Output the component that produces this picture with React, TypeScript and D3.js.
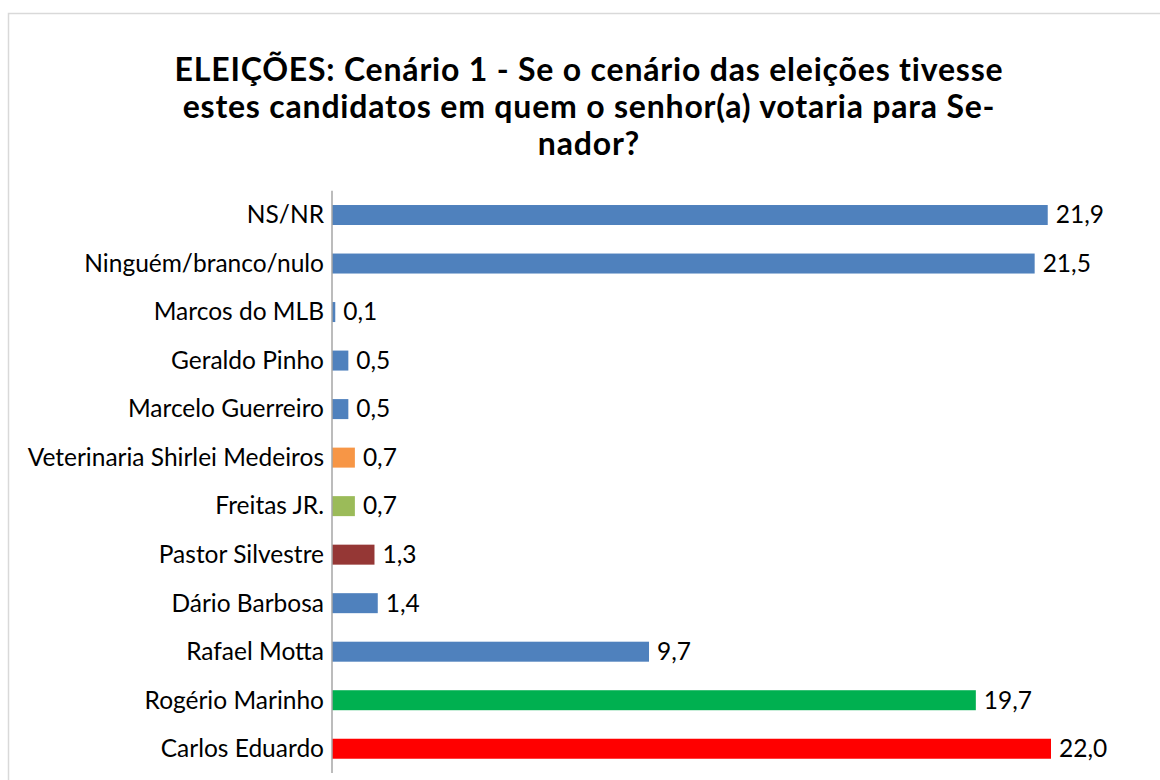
import React from "react";
import * as d3 from "d3";

// Senate voting scenario, values in %
const candidates = [
  "NS/NR",
  "Ninguém/branco/nulo",
  "Marcos do MLB",
  "Geraldo Pinho",
  "Marcelo Guerreiro",
  "Veterinaria Shirlei Medeiros",
  "Freitas JR.",
  "Pastor Silvestre",
  "Dário Barbosa",
  "Rafael Motta",
  "Rogério Marinho",
  "Carlos Eduardo",
];
const values = [21.9, 21.5, 0.1, 0.5, 0.5, 0.7, 0.7, 1.3, 1.4, 9.7, 19.7, 22.0];
const colors = [
  "#4f81bd", "#4f81bd", "#4f81bd", "#4f81bd", "#4f81bd",
  "#f79646", "#9bbb59", "#953735", "#4f81bd", "#4f81bd",
  "#00b050", "#ff0000",
];
const titleLines = [
  "ELEIÇÕES: Cenário 1 - Se o cenário das eleições tivesse",
  "estes candidatos em quem o senhor(a) votaria para Se-",
  "nador?",
];

const width = 1160;
const height = 780;
const margin = { left: 332, top: 190.75, right: 109, bottom: 7 };
const font = "Lato, 'Open Sans', sans-serif";

export default function App() {
  const data = candidates.map((c, i) => ({ name: c, value: values[i], color: colors[i] }));

  const xScale = d3.scaleLinear().domain([0, 22]).range([margin.left, 1051]);
  const yScale = d3
    .scaleBand<string>()
    .domain(candidates)
    .range([margin.top, height - margin.bottom])
    .paddingInner(0.588)
    .paddingOuter(0.294);

  const fmt = (v: number) => d3.format(".1f")(v).replace(".", ",");

  return (
    <svg
      width={width}
      height={height}
      style={{ position: "fixed", left: 0, top: 0, background: "#fff" }}
    >
      <rect x={8.5} y={13.5} width={1200} height={800} fill="#fff" stroke="#d9d9d9" strokeWidth={1.5} />

      {/* Title */}
      {titleLines.map((t, i) => (
        <text
          key={i}
          x={589}
          y={81 + i * 37}
          textAnchor="middle"
          fontFamily={font}
          fontWeight="bold"
          fontSize={32}
          letterSpacing={0.8}
          fill="#000"
        >
          {t}
        </text>
      ))}

      {/* Bars */}
      {data.map((d) => (
        <rect
          key={d.name}
          x={xScale(0)}
          y={yScale(d.name)}
          width={xScale(d.value) - xScale(0)}
          height={yScale.bandwidth()}
          fill={d.color}
        />
      ))}

      {/* Value labels */}
      {data.map((d) => (
        <text
          key={d.name}
          x={xScale(d.value) + 8}
          y={(yScale(d.name) as number) + yScale.bandwidth() / 2}
          dy="0.34em"
          fontFamily={font}
          fontSize={24.5}
          fill="#000"
        >
          {fmt(d.value)}
        </text>
      ))}

      {/* Category labels */}
      {data.map((d) => (
        <text
          key={d.name}
          x={margin.left - 8}
          y={(yScale(d.name) as number) + yScale.bandwidth() / 2}
          dy="0.34em"
          textAnchor="end"
          fontFamily={font}
          fontSize={24.5}
          fill="#000"
        >
          {d.name}
        </text>
      ))}

      {/* Axis line */}
      <line
        x1={margin.left}
        x2={margin.left}
        y1={yScale.range()[0]}
        y2={yScale.range()[1]}
        stroke="#a6a6a6"
        strokeWidth={1.5}
      />
    </svg>
  );
}
